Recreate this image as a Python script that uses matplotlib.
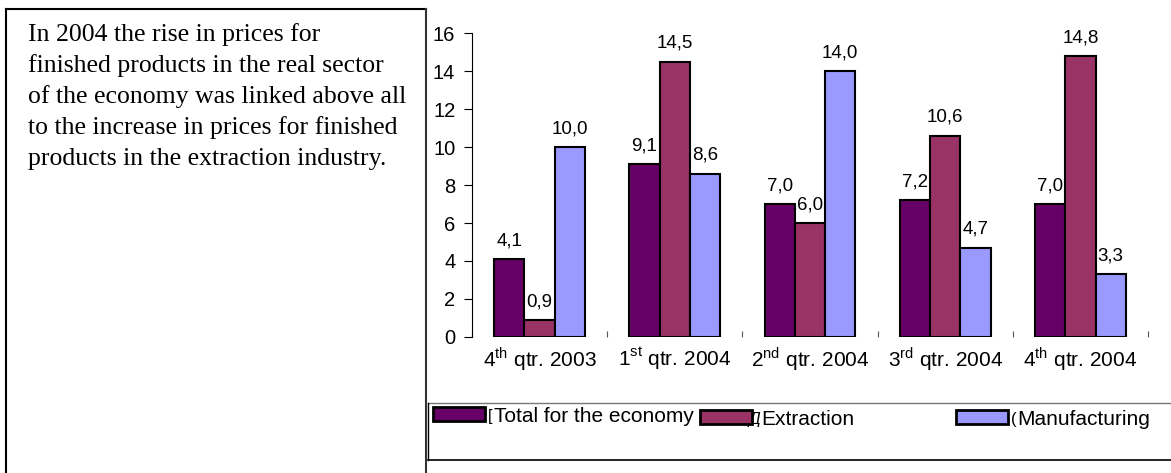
import matplotlib
matplotlib.use("Agg")
import matplotlib.pyplot as plt
import numpy as np
from matplotlib.lines import Line2D
from matplotlib.patches import Patch

plt.rcParams['font.family'] = ['Liberation Sans', 'DejaVu Sans']
plt.rcParams['mathtext.fontset'] = 'custom'
plt.rcParams['mathtext.rm'] = 'Liberation Sans'

# price growth by sector, %
quarters = ["4$^{\\mathrm{th}}$ qtr. 2003", "1$^{\\mathrm{st}}$ qtr. 2004", "2$^{\\mathrm{nd}}$ qtr. 2004",
            "3$^{\\mathrm{rd}}$ qtr. 2004", "4$^{\\mathrm{th}}$ qtr. 2004"]
total = [4.1, 9.1, 7.0, 7.2, 7.0]
extraction = [0.9, 14.5, 6.0, 10.6, 14.8]
manufacturing = [10.0, 8.6, 14.0, 4.7, 3.3]

series_names = ["Total for the economy", "Extraction", "Manufacturing"]
# leftovers of the original russian captions peeking out
series_stub = ["[", "Д", "("]
colors = ["#660066", "#993366", "#9999ff"]

note_lines = [
    "In 2004 the rise in prices for",
    "finished products in the real sector",
    "of the economy was linked above all",
    "to the increase in prices for finished",
    "products in the extraction industry.",
]

W, H = 1171, 473
fig = plt.figure(figsize=(W / 100, H / 100), dpi=100)


def fx(x):
    return x / W


def fy(y):
    return 1 - y / H


# left text box
for xs, ys, c in [([6, 6], [9, 480], 'black'), ([6, 426], [9, 9], 'black'), ([426, 426], [9, 480], '#333333')]:
    fig.add_artist(Line2D([fx(v) for v in xs], [fy(v) for v in ys], color=c, lw=1.5))

for i, line in enumerate(note_lines):
    fig.text(fx(28), fy(41 + 31 * i), line, family='Liberation Serif', fontsize=18.5, va='baseline')

# chart
ax = fig.add_axes([fx(472), fy(337), (1148 - 472) / W, 304 / H])
x = np.arange(len(quarters))
bw = 0.224
for k, (vals, c) in enumerate(zip([total, extraction, manufacturing], colors)):
    bars = ax.bar(x + (k - 1) * bw, vals, bw, color=c, edgecolor='black', linewidth=1.5, zorder=3)
    ax.bar_label(bars, labels=[f"{v:.1f}".replace('.', ',') for v in vals], padding=7, fontsize=13.5)

ax.set_xlim(-0.5, len(quarters) - 0.5)
ax.set_ylim(0, 16)
ax.set_yticks(range(0, 17, 2))
ax.tick_params(axis='y', labelsize=14.5, length=6, width=0.8, pad=6)
ax.set_xticks(x)
ax.set_xticklabels(quarters, fontsize=15)
ax.tick_params(axis='x', length=0, pad=6)
ax.set_xticks(np.arange(-0.5, len(quarters), 1), minor=True)
ax.tick_params(axis='x', which='minor', direction='in', length=4, width=0.8, color='#555555')
for s in ['top', 'right', 'bottom']:
    ax.spines[s].set_visible(False)
ax.spines['left'].set_linewidth(0.8)

# legend strip
fig.add_artist(Line2D([fx(428), fx(1175)], [fy(403), fy(403)], color='#777777', lw=1))
fig.add_artist(Line2D([fx(428), fx(428)], [fy(403), fy(460)], color='black', lw=1))
fig.add_artist(Line2D([fx(428), fx(1175)], [fy(460), fy(460)], color='black', lw=1.2))

for name, stub, c, hx, sx, ty in zip(series_names, series_stub, colors,
                                     [433, 700, 956], [488, 749, 1011], [416, 419, 419]):
    fig.text(fx(sx), fy(ty), stub, fontsize=12, va='center', ha='left',
             style='italic' if stub == "Д" else 'normal')
    fig.legend(handles=[Patch(facecolor=c, edgecolor='black', linewidth=2)], labels=[name],
               loc='center left', bbox_to_anchor=(fx(hx), fy(ty)), frameon=False,
               fontsize=15, handlelength=2.5, handleheight=0.62, handletextpad=0.45,
               borderpad=0, borderaxespad=0)

fig.savefig("out.png", dpi=100)
